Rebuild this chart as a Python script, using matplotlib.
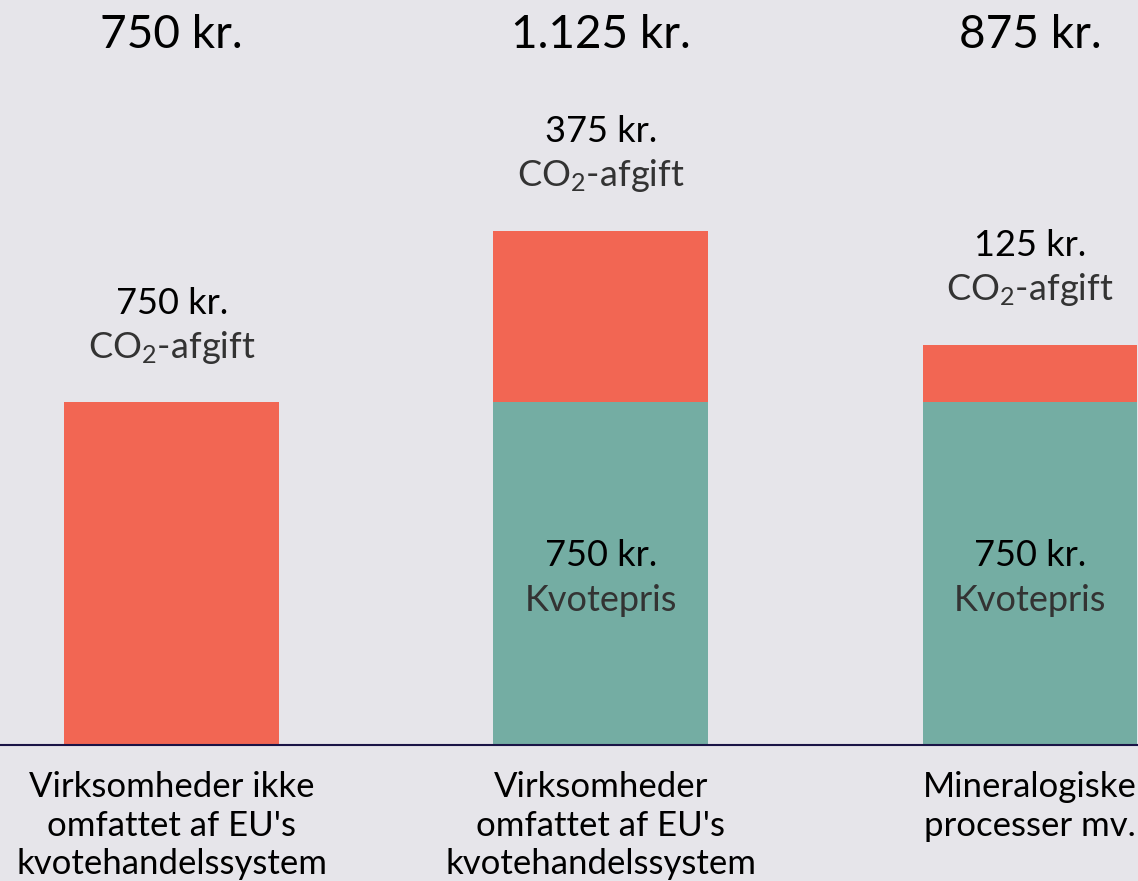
import matplotlib.pyplot as plt
import numpy as np

# data
categories = ["Virksomheder ikke\nomfattet af EU's\nkvotehandelssystem",
              "Virksomheder\nomfattet af EU's\nkvotehandelssystem",
              "Mineralogiske\nprocesser mv."]
kvotepris = [0, 750, 750]
co2_afgift = [750, 375, 125]
totals = ["750 kr.", "1.125 kr.", "875 kr."]

bg = '#e6e5ea'
red = '#f26653'
teal = '#74ada3'

plt.rcParams['font.family'] = ['Lato', 'DejaVu Sans']
plt.rcParams['mathtext.fontset'] = 'custom'
plt.rcParams['mathtext.rm'] = 'Lato'
plt.rcParams['mathtext.default'] = 'rm'

fig = plt.figure(figsize=(11.38, 8.81), dpi=100, facecolor=bg)
ax = fig.add_axes([0, 0, 1, 1])
ax.set_facecolor(bg)

x = np.arange(len(categories))
ax.bar(x, kvotepris, width=0.5, color=teal)
ax.bar(x, co2_afgift, width=0.5, bottom=kvotepris, color=red)
ax.axhline(0, color='#1a1446', lw=1.5)

px = 750 / 343.0  # data units per pixel
ax.set_xlim(-0.4, 2.252)
ax.set_ylim(-(881 - 745) * px, 745 * px)

for i in range(len(categories)):
    top = kvotepris[i] + co2_afgift[i]
    ax.text(x[i], top + 55 * px, 'CO$_2$-afgift', ha='center', va='center',
            fontsize=26, color='#333333')
    ax.text(x[i], top + 99 * px, f'{co2_afgift[i]} kr.', ha='center', va='center',
            fontsize=26, color='black')
    if kvotepris[i] > 0:
        mid = kvotepris[i] / 2
        ax.text(x[i], mid + 18 * px, f'{kvotepris[i]} kr.', ha='center', va='center',
                fontsize=26, color='black')
        ax.text(x[i], mid - 27 * px, 'Kvotepris', ha='center', va='center',
                fontsize=26, color='#333333')
    ax.text(x[i], 1629 - 35 * px, totals[i], ha='center', va='center',
            fontsize=33, color='black')
    ax.text(x[i], -26 * px, categories[i], ha='center', va='top',
            fontsize=25, color='black', linespacing=1.25)

ax.axis('off')
fig.savefig('out.png', dpi=100, facecolor=bg)
